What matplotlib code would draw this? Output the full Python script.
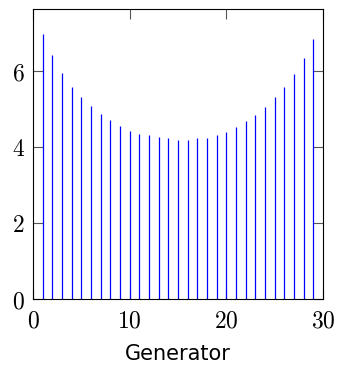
import numpy as np
import matplotlib
matplotlib.use('Agg')
import matplotlib.pyplot as plt

plt.rcParams['mathtext.fontset'] = 'cm'

generators = list(range(1, 30))
values = [6.95, 6.40, 5.94, 5.57, 5.31, 5.06, 4.87, 4.70, 4.55, 4.42,
          4.34, 4.30, 4.25, 4.22, 4.17, 4.18, 4.23, 4.24, 4.31, 4.40,
          4.52, 4.69, 4.83, 5.04, 5.30, 5.57, 5.92, 6.32, 6.82]
xticks = [0, 10, 20, 30]
yticks = [0, 2, 4, 6]

fig = plt.figure(figsize=(3.39, 3.70), dpi=100)
ax = fig.add_axes([33/339, 1 - 299/370, 290/339, 290/370])

ax.vlines(generators, 0, values, colors='#0000ff', linewidth=0.9)

ax.set_xlim(0, 30)
ax.set_ylim(0, 7.62)
ax.set_xticks(xticks)
ax.set_yticks(yticks)
ax.set_xticklabels(['$%d$' % t for t in xticks], fontsize=17)
ax.set_yticklabels(['$%d$' % t for t in yticks], fontsize=17)
ax.tick_params(direction='in', top=True, right=True, length=7.5, width=0.8,
               color='#555555')
ax.tick_params(axis='x', pad=7)
ax.tick_params(axis='y', pad=6)
for s in ax.spines.values():
    s.set_linewidth(0.8)
ax.set_xlabel('Generator', fontsize=15, labelpad=8)

fig.savefig('out.png', dpi=100)
